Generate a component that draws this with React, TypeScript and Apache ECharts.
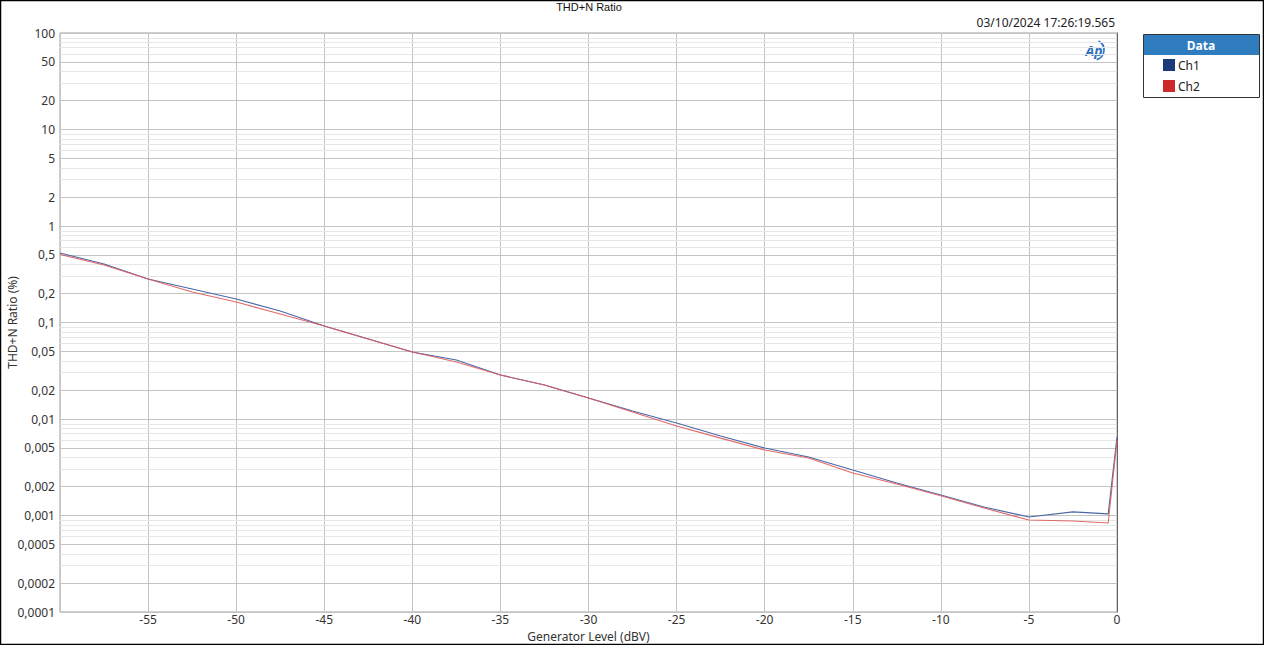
import React, { useEffect, useRef } from "react";
import * as echarts from "echarts";

const xLevels = [-60, -57.5, -55, -52.5, -50, -47.5, -45, -42.5, -40, -37.5, -35, -32.5, -30, -27.5, -25, -22.5, -20, -17.5, -15, -12.5, -10, -7.5, -5, -2.5, -0.5, 0];
const ch1 = [0.525, 0.404, 0.282, 0.222, 0.175, 0.1315, 0.092, 0.0675, 0.0494, 0.0409, 0.0286, 0.0225, 0.0165, 0.0121, 0.0091, 0.00667, 0.0050, 0.00404, 0.00296, 0.00217, 0.00163, 0.00122, 0.000964, 0.00109, 0.00104, 0.0065];
const ch2 = [0.507, 0.394, 0.282, 0.207, 0.163, 0.1225, 0.092, 0.0675, 0.0494, 0.039, 0.0286, 0.0225, 0.0165, 0.0118, 0.00846, 0.00634, 0.00477, 0.00395, 0.00276, 0.00212, 0.0016, 0.00119, 0.000897, 0.000877, 0.000836, 0.0060];

const yMajorTicks = [0.0001, 0.0002, 0.0005, 0.001, 0.002, 0.005, 0.01, 0.02, 0.05, 0.1, 0.2, 0.5, 1, 2, 5, 10, 20, 50, 100];
const yMinorGrid = [
  0.0003, 0.0004, 0.0006, 0.0007, 0.0008, 0.0009,
  0.003, 0.004, 0.006, 0.007, 0.008, 0.009,
  0.03, 0.04, 0.06, 0.07, 0.08, 0.09,
  0.3, 0.4, 0.6, 0.7, 0.8, 0.9,
  3, 4, 6, 7, 8, 9,
  30, 40, 60, 70, 80, 90,
];
const xSkipLabel = -60;

const titleText = "THD+N Ratio";
const dateText = "03/10/2024 17:26:19.565";
const xName = "Generator Level (dBV)";
const yName = "THD+N Ratio (%)";

const fmt = (v: number) => String(v).replace(".", ",");
const lg = (v: number) => Math.log10(v);

export default function App() {
  const ref = useRef<HTMLDivElement>(null);
  useEffect(() => {
    const chart = echarts.init(ref.current!, null, { renderer: "svg" });
    const font = "'Noto Sans', 'Open Sans', sans-serif";
    const markData: any[] = [];
    yMinorGrid.forEach((v) =>
      markData.push({ yAxis: lg(v), lineStyle: { color: "#e6e6e6", width: 1, type: "solid" }, label: { show: false } })
    );
    yMajorTicks.forEach((v) =>
      markData.push({
        yAxis: lg(v),
        lineStyle: { color: "#c4c4c4", width: 1, type: "solid" },
        label: { show: true, position: "start", distance: 5, formatter: fmt(v), color: "#333", fontSize: 12, fontFamily: font },
      })
    );
    chart.setOption({
      animation: false,
      backgroundColor: "#fff",
      grid: {
        left: 60, right: 147, top: 33, bottom: 33, show: true, borderColor: "#a0a0a0", borderWidth: 1,
        containLabel: false, outerBoundsMode: "none",
      },
      xAxis: {
        type: "value",
        min: -60,
        max: 0,
        interval: 5,
        name: xName,
        nameLocation: "middle",
        nameGap: 18,
        nameMoveOverlap: false,
        nameTextStyle: { color: "#333", fontSize: 12, lineHeight: 12, fontFamily: font },
        axisLine: { lineStyle: { color: "#666" } },
        axisTick: { show: false },
        axisLabel: {
          color: "#333",
          fontSize: 12,
          lineHeight: 12,
          fontFamily: font,
          margin: 1,
          formatter: (v: number) => (v === xSkipLabel ? "" : String(v)),
        },
        splitLine: { show: true, lineStyle: { color: "#c4c4c4" } },
      },
      yAxis: {
        type: "value",
        min: -4,
        max: 2,
        interval: 1,
        name: yName,
        nameLocation: "middle",
        nameGap: 42,
        nameTextStyle: { color: "#333", fontSize: 12, fontFamily: font },
        axisLine: { show: true, lineStyle: { color: "#666" } },
        axisTick: { show: false },
        axisLabel: { show: false },
        splitLine: { show: false },
      },
      legend: {
        orient: "vertical",
        left: 1163,
        top: 59,
        padding: 0,
        itemWidth: 12,
        itemHeight: 12,
        itemGap: 9,
        icon: "rect",
        textStyle: { color: "#222", fontSize: 12, fontFamily: font, padding: [0, 0, 0, -2] },
        data: [
          { name: "Ch1", itemStyle: { color: "#1a3a7c" } },
          { name: "Ch2", itemStyle: { color: "#cc2a2a" } },
        ],
      },
      series: [
        {
          name: "grid",
          type: "line",
          data: [],
          z: 1,
          silent: true,
          markLine: { silent: true, z: 1, symbol: "none", animation: false, data: markData },
        },
        {
          name: "Ch1",
          type: "line",
          z: 3,
          showSymbol: false,
          itemStyle: { color: "#1a3a7c" },
          lineStyle: { color: "#4a68a8", width: 1.1 },
          data: xLevels.map((x, i) => [x, lg(ch1[i])]),
        },
        {
          name: "Ch2",
          type: "line",
          z: 3,
          showSymbol: false,
          itemStyle: { color: "#cc2a2a" },
          lineStyle: { color: "#e05a5a", width: 1.1, opacity: 0.9 },
          data: xLevels.map((x, i) => [x, lg(ch2[i])]),
        },
      ],
      graphic: [
        { type: "rect", shape: { x: 0.5, y: 0.5, width: 1263, height: 644 }, style: { fill: "none", stroke: "#000", lineWidth: 1.5 }, silent: true },
        { type: "text", x: 589, y: 7, style: { text: titleText, fill: "#111", font: "11px 'Liberation Sans', Arial, sans-serif", textAlign: "center", textVerticalAlign: "middle" } },
        { type: "text", x: 1115, y: 22, style: { text: dateText, fill: "#222", font: `12px ${font}`, textAlign: "right", textVerticalAlign: "middle" } },
        { type: "text", x: 1094, y: 50, style: { text: "Ap", fill: "#2f6fc0", font: `italic bold 14px ${font}`, textAlign: "center", textVerticalAlign: "middle" } },
        { type: "arc", shape: { cx: 1094, cy: 50, r: 10, startAngle: -1.1, endAngle: 1.3 }, style: { stroke: "#2f6fc0", lineWidth: 1.6, fill: "none" } },
        { type: "rect", shape: { x: 1143.5, y: 34.5, width: 116, height: 63 }, style: { fill: "#fff", stroke: "#333", lineWidth: 1 }, z: -1 },
        { type: "rect", shape: { x: 1144, y: 35, width: 115, height: 20 }, style: { fill: "#2f7dbf" } },
        { type: "text", x: 1201, y: 45, style: { text: "Data", fill: "#fff", font: `bold 12px ${font}`, textAlign: "center", textVerticalAlign: "middle" } },
      ],
    });
    return () => chart.dispose();
  }, []);
  return <div ref={ref} style={{ position: "fixed", left: 0, top: 0, width: 1264, height: 645 }} />;
}
